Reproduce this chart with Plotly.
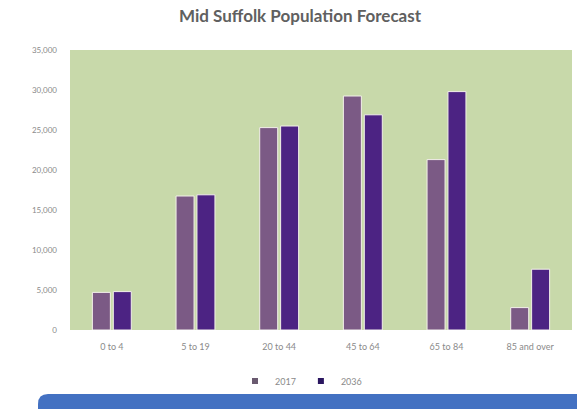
import plotly.graph_objects as go

# Age bands and forecast populations
age_bands = ["0 to 4", "5 to 19", "20 to 44", "45 to 64", "65 to 84", "85 and over"]
pop_2017 = [4700, 16750, 25300, 29250, 21300, 2800]
pop_2036 = [4800, 16900, 25500, 26900, 29800, 7600]
series_names = ["2017", "2036"]
y_ticks = [0, 5000, 10000, 15000, 20000, 25000, 30000, 35000]
y_tick_text = ["0", "5,000", "10,000", "15,000", "20,000", "25,000", "30,000", "35,000"]

bar_colors = ["#7b5a85", "#4c2383"]
key_colors = ["#6a5a70", "#2a1660"]

W, H = 577, 409
L, R, T, B = 70, 5, 50, 79

fig = go.Figure()
for name, vals, col in zip(series_names, [pop_2017, pop_2036], bar_colors):
    fig.add_trace(go.Bar(
        x=age_bands, y=vals, name=name, showlegend=False,
        marker=dict(color=col, line=dict(color="#f3f0ea", width=1)),
    ))
# Compact square legend keys
for name, col in zip(series_names, key_colors):
    fig.add_trace(go.Scatter(
        x=[None], y=[None], name=name, mode="markers",
        marker=dict(symbol="square", size=6, color=col),
    ))

# Blue caption banner along the bottom edge (rounded top-left corner)
pw, ph = W - L - R, H - T - B
def px_x(p):
    return (p - L) / pw
def px_y(p):
    return (H - B - p) / ph
x0, x1, y0, y1, r = 38, 590, 394, 420, 10
path = (f"M {px_x(x0)},{px_y(y1)} L {px_x(x0)},{px_y(y0 + r)} "
        f"Q {px_x(x0)},{px_y(y0)} {px_x(x0 + r)},{px_y(y0)} "
        f"L {px_x(x1)},{px_y(y0)} L {px_x(x1)},{px_y(y1)} Z")

fig.update_layout(
    width=W, height=H,
    margin=dict(l=L, r=R, t=T, b=B),
    paper_bgcolor="white",
    plot_bgcolor="#c8d9aa",
    barmode="group",
    bargap=0.5,
    bargroupgap=0.14,
    title=dict(
        text="<b>Mid Suffolk Population Forecast</b>",
        x=300 / W, xanchor="center",
        y=1 - 16 / H, yanchor="middle",
        font=dict(family="Lato", size=17, color="#606060"),
    ),
    font=dict(family="Lato", size=9, color="#8a8a8a"),
    xaxis=dict(
        showgrid=False, showline=False, ticks="",
        tickfont=dict(size=9, color="#8a8a8a"),
        ticklabelstandoff=10,
    ),
    yaxis=dict(
        range=[0, 35000], tickvals=y_ticks, ticktext=y_tick_text,
        showgrid=False, zeroline=False, showline=False, ticks="",
        tickfont=dict(size=8, color="#8a8a8a"),
        ticklabelstandoff=12,
    ),
    legend=dict(
        orientation="h", x=(301 - L) / pw, xanchor="center",
        y=px_y(381), yanchor="middle",
        font=dict(size=9, color="#8a8a8a"),
        itemwidth=30, tracegroupgap=0,
        bgcolor="rgba(0,0,0,0)",
    ),
    shapes=[dict(
        type="path", path=path, xref="paper", yref="paper",
        fillcolor="#4371c2", line=dict(width=0), layer="above",
    )],
)

fig.write_html("out.html")
